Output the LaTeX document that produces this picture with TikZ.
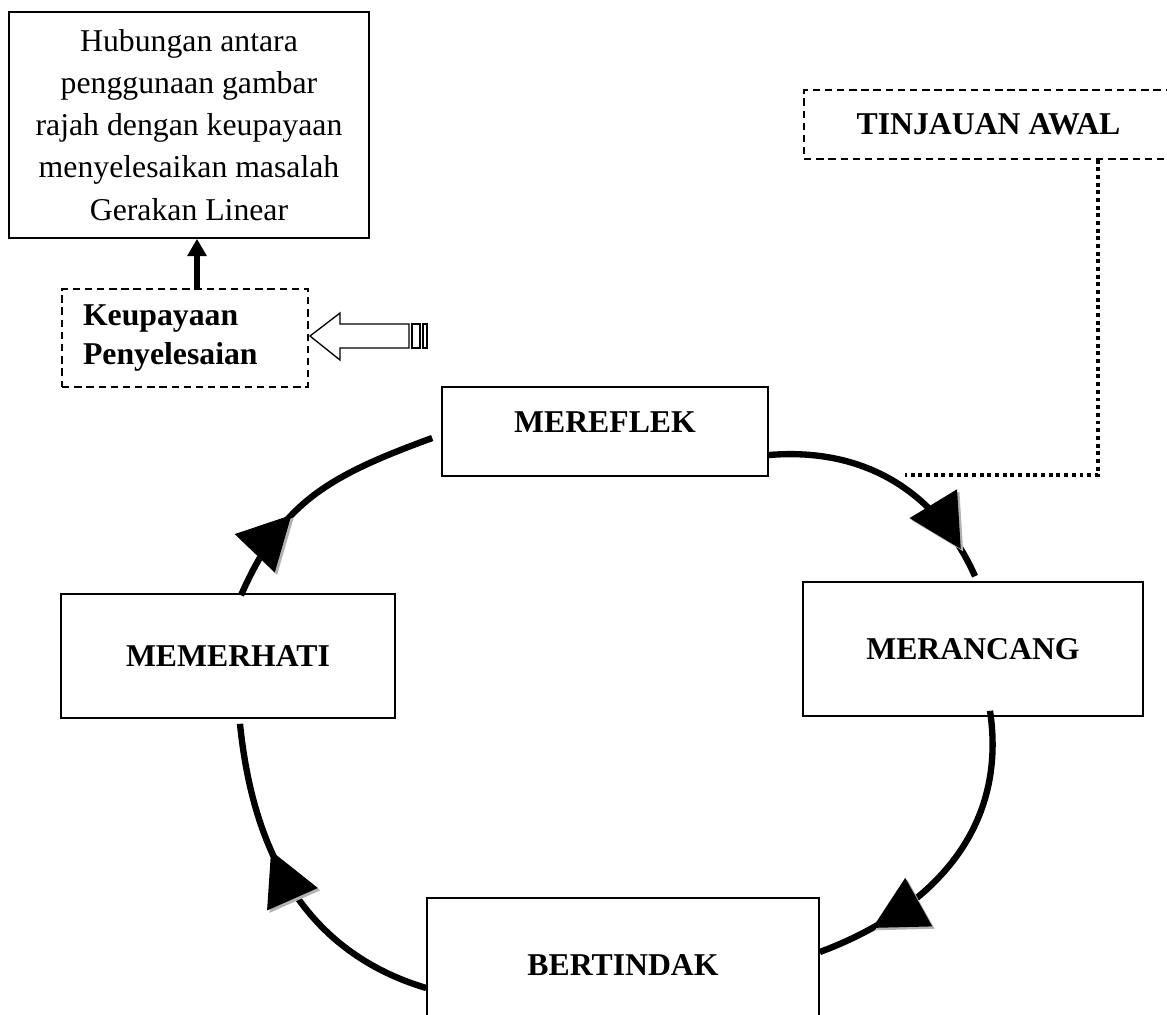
\documentclass[tikz,border=0pt]{standalone}
\usepackage{fontspec}
\setmainfont{Liberation Serif}
\usetikzlibrary{arrows.meta,decorations.markings}

% triangle head with a grey drop shadow, drawn in the marking frame
\newcommand{\cyclehead}{%
  \pgfgettransformentries{\ta}{\tb}{\tc}{\td}{\tx}{\ty}%
  \pgfmathsetmacro{\su}{(\ta-\tb)*0.9}%
  \pgfmathsetmacro{\sv}{(\tc-\td)*0.9}%
  \fill[black!30, shift={(\su pt,\sv pt)}] (0pt,0pt) -- (-20pt,10.5pt) -- (-20pt,-10.5pt) -- cycle;
  \fill (0pt,0pt) -- (-20pt,10.5pt) -- (-20pt,-10.5pt) -- cycle;}

\begin{document}
\begin{tikzpicture}[x=0.378pt, y=-0.378pt,
    plainbox/.style={draw, line width=0.6pt, inner sep=0pt},
    stagebox/.style={plainbox, font=\fontsize{12pt}{14.4pt}\selectfont\bfseries},
    dashbox/.style={draw, line width=0.5pt, dash pattern=on 2.8pt off 1.8pt, inner sep=0pt},
    cycleline/.style={line width=2.4pt, postaction={decorate},
      decoration={markings, mark=at position #1 with {\cyclehead}}},
    dotline/.style={line width=1.6pt, dash pattern=on 1.5pt off 1.4pt}]
        \tikzstyle{every node}+=[inner sep=0pt]
        \clip (0,0) rectangle (1167,1014);
        % top left
        \node [plainbox, minimum width=136.08pt, minimum height=85.43pt, align=center,
          font=\fontsize{12pt}{15.9pt}\selectfont] (hubungan) at (189,125) {Hubungan antara\\penggunaan gambar\\rajah dengan keupayaan\\menyelesaikan masalah\\Gerakan Linear};
        \node [dashbox, minimum width=92.99pt, minimum height=37.04pt, align=left, text width=77.1pt,
          font=\fontsize{12pt}{14.4pt}\selectfont\bfseries] (keupbox) at (185,338) {Keupayaan\\Penyelesaian};
        \coordinate (uptail) at ([shift={(12,0)}]keupbox.north);
        \draw [line width=2.2pt, -{Triangle[length=6.5pt,width=7pt]}] (uptail) -- (uptail |- hubungan.south);
        \draw [line width=0.5pt] (310,336) -- (340,313) -- (340,324) -- (409,324) -- (409,348) -- (340,348) -- (340,360) -- cycle;
        \draw [line width=0.5pt] (412,324) rectangle (420,348) (423,324) rectangle (427,348);
        % top right
        \node [dashbox, minimum width=139.48pt, minimum height=26.08pt,
          font=\fontsize{12pt}{14.4pt}\selectfont\bfseries] (tinjauan) at (988.5,124.5) {TINJAUAN AWAL};
        \coordinate (dotturn) at (1098,475);
        \coordinate (dotend) at (905,475);
        \draw [dotline] (tinjauan.south -| dotturn) -- (dotturn) -- (dotend);
        % the cycle
        \node [stagebox, minimum width=123.23pt, minimum height=33.64pt, text depth=7.2pt] (mereflek) at (605,431.5) {MEREFLEK};
        \node [stagebox, minimum width=128.52pt, minimum height=50.65pt] (merancang) at (973,649) {MERANCANG};
        \node [stagebox, minimum width=148.18pt, minimum height=50.65pt] (bertindak) at (623,965) {BERTINDAK};
        \node [stagebox, minimum width=126.25pt, minimum height=46.87pt] (memerhati) at (228,656) {MEMERHATI};
        \draw [cycleline=0.88] ([shift={(0,23.5)}]mereflek.east) .. controls +(110,-9) and +(-31,-70) .. ([shift={(2,-5)}]merancang.north);
        \draw [cycleline=0.82] ([shift={(17,-6)}]merancang.south) .. controls +(18,120) and +(110,-41) .. ([shift={(0,-13)}]bertindak.east);
        \draw [cycleline=0.62] ([shift={(0,23)}]bertindak.west) .. controls +(-120,-36) and +(13,130) .. ([shift={(12,5)}]memerhati.south);
        \draw [cycleline=0.37] ([shift={(13,2)}]memerhati.north) .. controls +(40,-90) and +(-110,40) .. ([shift={(-9,6.5)}]mereflek.west);
\end{tikzpicture}
\end{document}
